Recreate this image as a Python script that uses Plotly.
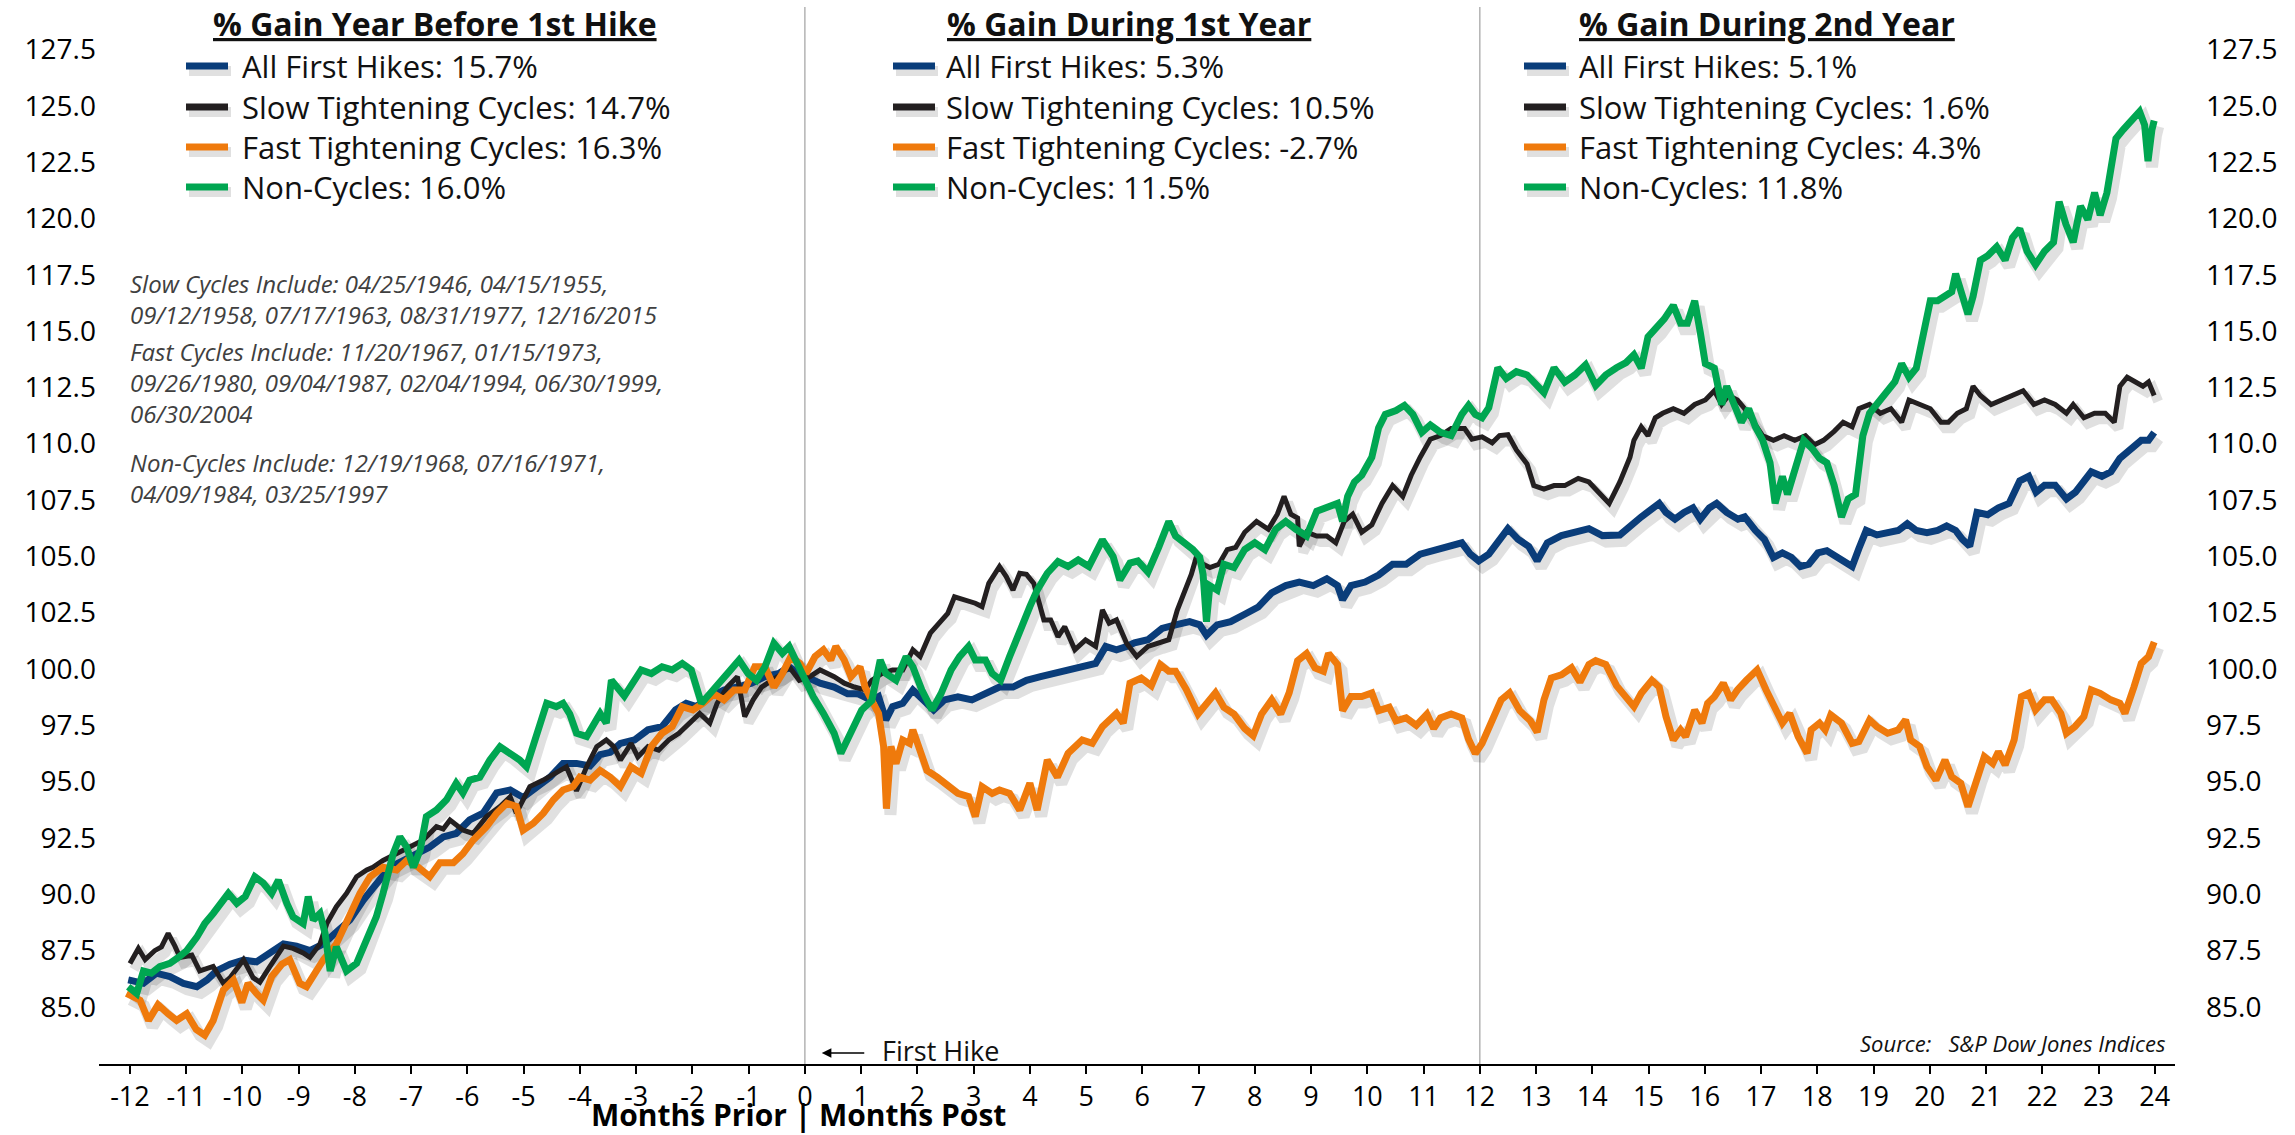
import plotly.graph_objects as go

# ---------------- data (months relative to first hike, index level) ----------------
all_first_hikes = [(-12.03,86.2),(-11.76,86.05),(-11.53,86.5),(-11.29,86.35),(-11.05,86.05),(-10.81,85.9),(-10.63,86.2),(-10.46,86.6),(-10.22,86.9),(-9.98,87.08),(-9.75,87.0),(-9.51,87.4),(-9.27,87.8),(-9.04,87.7),(-8.80,87.5),(-8.56,87.8),(-8.33,88.27),(-8.09,88.86),(-7.85,89.75),(-7.62,90.5),(-7.38,91.2),(-7.14,91.5),(-6.90,91.8),(-6.67,92.1),(-6.43,92.55),(-6.20,92.7),(-5.96,93.3),(-5.72,93.6),(-5.48,94.5),(-5.24,94.63),(-5.01,94.3),(-4.77,94.78),(-4.53,95.2),(-4.30,95.81),(-4.06,95.81),(-3.82,95.7),(-3.64,96.2),(-3.46,96.3),(-3.28,96.7),(-3.03,96.85),(-2.79,97.3),(-2.54,97.44),(-2.30,98.18),(-2.11,98.48),(-1.93,98.33),(-1.69,98.77),(-1.44,99.07),(-1.20,99.2),(-0.95,99.37),(-0.71,99.66),(-0.46,99.8),(-0.28,100.1),(-0.12,99.8),(0.02,99.66),(0.27,99.37),(0.52,99.2),(0.76,98.9),(0.95,98.9),(1.19,98.6),(1.31,98.77),(1.44,97.74),(1.56,98.33),(1.74,98.48),(1.92,99.07),(2.11,98.63),(2.29,98.18),(2.48,98.63),(2.72,98.77),(2.97,98.63),(3.21,98.9),(3.46,99.2),(3.70,99.2),(3.94,99.5),(4.19,99.66),(4.44,99.8),(4.68,99.96),(4.93,100.1),(5.17,100.25),(5.35,101.0),(5.54,100.85),(5.72,101.0),(5.86,101.16),(6.10,101.3),(6.35,101.8),(6.59,101.96),(6.84,102.1),(7.02,101.96),(7.14,101.5),(7.33,101.96),(7.57,102.1),(7.82,102.43),(8.06,102.75),(8.30,103.38),(8.55,103.7),(8.79,103.86),(9.04,103.7),(9.28,104.0),(9.47,103.7),(9.56,103.07),(9.71,103.7),(9.96,103.86),(10.20,104.17),(10.45,104.65),(10.69,104.65),(10.94,105.1),(11.18,105.28),(11.43,105.44),(11.68,105.6),(11.83,105.1),(11.98,104.8),(12.16,105.1),(12.35,105.76),(12.50,106.23),(12.68,105.76),(12.87,105.44),(13.02,104.8),(13.20,105.6),(13.45,105.92),(13.69,106.07),(13.94,106.23),(14.18,105.92),(14.49,105.95),(14.87,106.75),(15.19,107.35),(15.31,106.95),(15.47,106.65),(15.63,106.95),(15.79,107.15),(15.92,106.65),(16.08,107.15),(16.21,107.35),(16.39,106.95),(16.59,106.65),(16.71,106.75),(16.90,106.15),(17.06,105.75),(17.22,104.95),(17.38,105.15),(17.54,104.95),(17.70,104.55),(17.85,104.65),(18.01,105.15),(18.17,105.25),(18.36,104.95),(18.52,104.65),(18.62,104.55),(18.74,105.35),(18.87,106.15),(19.06,105.95),(19.25,106.05),(19.44,106.15),(19.60,106.45),(19.76,106.15),(19.95,106.05),(20.14,106.15),(20.30,106.35),(20.46,106.15),(20.58,105.75),(20.71,105.45),(20.84,106.95),(21.03,106.85),(21.22,107.15),(21.41,107.35),(21.60,108.35),(21.76,108.55),(21.89,107.85),(22.04,108.15),(22.23,108.15),(22.43,107.55),(22.59,107.85),(22.74,108.35),(22.87,108.75),(23.06,108.55),(23.22,108.75),(23.38,109.35),(23.57,109.75),(23.76,110.15),(23.89,110.15),(23.99,110.5)]

slow_cycles = [(-12.0,86.93),(-11.85,87.6),(-11.73,87.1),(-11.56,87.5),(-11.44,87.67),(-11.32,88.27),(-11.2,87.7),(-11.11,87.2),(-10.9,87.3),(-10.76,86.6),(-10.52,86.8),(-10.34,86.05),(-10.22,86.3),(-9.98,87.1),(-9.81,86.3),(-9.69,86.1),(-9.51,86.8),(-9.27,87.7),(-9.1,87.6),(-8.92,87.4),(-8.8,87.2),(-8.62,87.8),(-8.5,88.7),(-8.33,89.45),(-8.15,90.04),(-7.97,90.78),(-7.79,91.08),(-7.68,91.2),(-7.5,91.5),(-7.26,91.8),(-7.02,92.1),(-6.79,92.4),(-6.55,93.0),(-6.43,92.9),(-6.31,93.3),(-6.08,92.85),(-5.9,92.7),(-5.66,93.45),(-5.42,93.9),(-5.24,94.33),(-5.13,93.6),(-5.01,94.2),(-4.89,94.78),(-4.65,95.07),(-4.42,95.37),(-4.24,95.66),(-4.06,94.6),(-3.88,95.66),(-3.7,96.55),(-3.53,96.85),(-3.4,96.56),(-3.28,95.96),(-3.09,96.7),(-2.97,96.1),(-2.79,96.56),(-2.6,96.4),(-2.42,96.85),(-2.24,97.15),(-2.05,97.6),(-1.87,98.03),(-1.69,97.6),(-1.56,98.48),(-1.38,99.2),(-1.2,99.66),(-1.07,97.89),(-0.92,98.63),(-0.77,99.2),(-0.58,99.5),(-0.4,99.8),(-0.28,100.1),(-0.1,99.5),(0.09,99.66),(0.27,99.96),(0.52,99.66),(0.7,99.37),(0.88,99.2),(1.07,99.07),(1.19,99.5),(1.37,99.8),(1.56,99.96),(1.74,99.96),(1.92,100.85),(2.05,100.55),(2.23,101.59),(2.42,102.18),(2.54,102.47),(2.66,103.2),(2.85,103.07),(3.03,102.92),(3.15,102.77),(3.27,103.8),(3.46,104.55),(3.58,104.1),(3.7,103.5),(3.82,104.25),(3.94,104.2),(4.07,103.8),(4.25,102.18),(4.37,102.18),(4.5,101.43),(4.62,101.88),(4.8,100.85),(4.99,101.29),(5.17,101.0),(5.29,102.62),(5.41,102.03),(5.54,102.18),(5.72,101.14),(5.9,100.55),(6.1,101.0),(6.29,101.16),(6.47,101.3),(6.62,102.6),(6.74,103.38),(6.87,104.2),(6.96,104.97),(7.08,104.65),(7.2,104.5),(7.36,104.65),(7.51,105.3),(7.66,105.4),(7.82,106.07),(8.03,106.55),(8.24,106.2),(8.4,106.87),(8.52,107.66),(8.64,106.87),(8.76,106.7),(8.79,105.44),(8.92,106.07),(9.1,105.9),(9.28,105.9),(9.44,105.6),(9.59,106.55),(9.74,106.87),(9.9,106.07),(10.08,106.4),(10.26,107.35),(10.45,108.14),(10.63,107.66),(10.78,108.6),(10.94,109.4),(11.12,110.2),(11.3,110.36),(11.49,110.67),(11.73,110.67),(11.86,110.2),(12.04,110.3),(12.22,110.04),(12.35,110.36),(12.5,110.4),(12.65,109.72),(12.84,109.1),(12.96,108.14),(13.14,107.98),(13.32,108.14),(13.51,108.14),(13.75,108.46),(13.94,108.3),(14.12,107.82),(14.3,107.35),(14.49,108.3),(14.67,109.4),(14.74,110.15),(14.87,110.75),(14.99,110.35),(15.12,111.15),(15.25,111.35),(15.44,111.55),(15.63,111.35),(15.82,111.74),(16.01,111.94),(16.17,112.35),(16.3,111.74),(16.42,112.14),(16.58,111.94),(16.71,111.55),(16.87,110.95),(17.03,110.35),(17.22,110.15),(17.41,110.35),(17.6,110.15),(17.79,110.35),(17.95,109.95),(18.11,110.15),(18.3,110.55),(18.46,110.95),(18.62,110.75),(18.74,111.55),(18.93,111.74),(19.12,111.35),(19.31,111.55),(19.5,110.95),(19.63,111.94),(19.82,111.74),(20.01,111.55),(20.2,110.95),(20.33,110.95),(20.49,111.35),(20.65,111.55),(20.77,112.55),(20.9,112.14),(21.09,111.74),(21.28,111.94),(21.47,112.14),(21.66,112.35),(21.85,111.74),(22.04,111.94),(22.23,111.74),(22.43,111.35),(22.55,111.74),(22.74,111.15),(22.93,111.35),(23.12,111.35),(23.28,110.95),(23.38,112.55),(23.51,112.95),(23.66,112.74),(23.79,112.55),(23.89,112.74),(23.99,112.14)]

fast_cycles = [(-12.06,85.6),(-11.82,85.3),(-11.67,84.4),(-11.5,85.1),(-11.32,84.7),(-11.17,84.4),(-10.99,84.7),(-10.82,84.0),(-10.67,83.75),(-10.52,84.4),(-10.34,85.75),(-10.16,86.2),(-10.01,85.2),(-9.9,86.05),(-9.75,85.6),(-9.63,85.3),(-9.48,86.35),(-9.3,86.9),(-9.16,87.1),(-8.98,86.05),(-8.86,85.9),(-8.68,86.6),(-8.56,87.1),(-8.33,87.8),(-8.09,89.15),(-7.91,90.04),(-7.73,90.78),(-7.5,91.2),(-7.26,91.08),(-7.08,91.5),(-6.87,91.2),(-6.67,90.78),(-6.49,91.4),(-6.25,91.4),(-6.08,91.8),(-5.9,92.4),(-5.66,93.0),(-5.48,93.6),(-5.3,94.04),(-5.13,93.9),(-5.01,92.85),(-4.83,93.15),(-4.65,93.6),(-4.47,94.2),(-4.3,94.63),(-4.12,94.78),(-4.0,95.2),(-3.82,95.07),(-3.64,95.5),(-3.46,95.2),(-3.28,94.78),(-3.09,95.66),(-2.91,95.37),(-2.73,96.56),(-2.54,97.15),(-2.36,97.44),(-2.18,98.33),(-1.99,98.18),(-1.81,98.48),(-1.62,98.9),(-1.44,98.63),(-1.26,99.07),(-1.07,99.07),(-0.89,100.1),(-0.71,100.1),(-0.55,99.2),(-0.4,99.8),(-0.25,100.55),(-0.09,100.25),(0.02,99.8),(0.18,100.55),(0.33,100.85),(0.46,100.4),(0.55,101.0),(0.7,100.4),(0.82,99.66),(0.98,100.1),(1.07,99.2),(1.19,98.6),(1.31,98.03),(1.4,96.56),(1.45,93.8),(1.53,96.56),(1.62,95.8),(1.74,96.85),(1.86,96.7),(1.92,97.3),(2.05,96.4),(2.17,95.5),(2.35,95.2),(2.54,94.78),(2.72,94.48),(2.91,94.34),(3.03,93.45),(3.15,94.78),(3.33,94.48),(3.46,94.63),(3.64,94.48),(3.82,93.74),(4.0,94.93),(4.13,93.74),(4.31,95.96),(4.49,95.2),(4.68,96.26),(4.93,96.85),(5.11,96.7),(5.29,97.44),(5.54,98.03),(5.66,97.6),(5.78,99.37),(5.98,99.6),(6.16,99.26),(6.32,100.2),(6.47,99.9),(6.59,99.9),(6.78,99.1),(6.99,98.0),(7.14,98.47),(7.3,98.94),(7.45,98.3),(7.63,98.0),(7.82,97.36),(7.97,97.04),(8.12,98.0),(8.3,98.63),(8.46,98.0),(8.61,98.94),(8.76,100.37),(8.92,100.69),(9.07,100.05),(9.22,99.9),(9.31,100.69),(9.47,100.2),(9.56,98.15),(9.71,98.78),(9.9,98.78),(10.08,98.94),(10.2,98.15),(10.39,98.3),(10.51,97.7),(10.69,97.83),(10.87,97.5),(11.06,98.0),(11.18,97.36),(11.3,97.83),(11.49,98.0),(11.68,97.83),(11.8,96.88),(11.92,96.25),(12.04,96.7),(12.22,97.7),(12.38,98.63),(12.53,98.94),(12.71,98.15),(12.9,97.7),(13.02,97.2),(13.14,98.63),(13.27,99.6),(13.45,99.74),(13.63,100.05),(13.78,99.42),(13.94,100.2),(14.06,100.37),(14.24,100.2),(14.43,99.26),(14.6,98.8),(14.74,98.33),(14.87,98.92),(15.06,99.5),(15.19,99.2),(15.31,97.89),(15.44,96.85),(15.57,97.3),(15.66,97.0),(15.82,98.18),(15.95,97.6),(16.05,98.48),(16.17,98.77),(16.33,99.37),(16.46,98.63),(16.58,99.07),(16.74,99.5),(16.93,99.96),(17.09,99.07),(17.22,98.33),(17.38,97.6),(17.51,98.03),(17.66,97.0),(17.82,96.26),(17.89,97.3),(18.04,97.6),(18.14,97.3),(18.24,97.96),(18.43,97.6),(18.62,96.7),(18.74,96.78),(18.93,97.74),(19.06,97.44),(19.25,97.15),(19.44,97.3),(19.57,97.74),(19.66,96.85),(19.82,96.56),(19.95,95.67),(20.11,95.07),(20.27,95.96),(20.39,95.22),(20.55,94.93),(20.68,93.89),(20.84,95.22),(20.97,96.11),(21.12,95.81),(21.22,96.33),(21.34,95.74),(21.5,96.85),(21.63,98.77),(21.76,98.92),(21.88,98.18),(22.04,98.63),(22.17,98.63),(22.33,98.03),(22.43,97.15),(22.58,97.44),(22.74,97.89),(22.87,99.07),(23.03,98.92),(23.22,98.63),(23.38,98.48),(23.47,98.03),(23.63,99.2),(23.76,100.25),(23.89,100.55),(23.99,101.2)]

non_cycles = [(-12.03,85.9),(-11.88,85.6),(-11.76,86.6),(-11.62,86.5),(-11.47,86.79),(-11.29,86.94),(-11.14,87.2),(-10.99,87.5),(-10.81,88.1),(-10.67,88.7),(-10.52,89.15),(-10.37,89.6),(-10.25,90.04),(-10.1,89.6),(-9.95,89.9),(-9.78,90.78),(-9.63,90.5),(-9.48,90.04),(-9.36,90.63),(-9.21,89.6),(-9.1,89.0),(-8.92,88.7),(-8.83,89.9),(-8.74,88.86),(-8.62,89.15),(-8.53,88.27),(-8.44,86.6),(-8.33,87.67),(-8.15,86.6),(-7.97,86.94),(-7.79,88.1),(-7.62,89.0),(-7.5,90.04),(-7.32,91.8),(-7.2,92.55),(-7.08,92.1),(-6.96,91.2),(-6.84,91.97),(-6.73,93.45),(-6.55,93.74),(-6.37,94.2),(-6.2,94.93),(-6.08,94.5),(-5.96,95.07),(-5.78,95.2),(-5.6,95.96),(-5.42,96.55),(-5.24,96.26),(-5.07,95.96),(-4.95,95.66),(-4.77,97.15),(-4.59,98.48),(-4.42,98.33),(-4.3,98.48),(-4.18,98.0),(-4.06,97.15),(-3.88,97.0),(-3.76,97.6),(-3.64,98.03),(-3.53,97.6),(-3.44,99.5),(-3.21,98.8),(-3.06,99.4),(-2.91,99.96),(-2.73,99.8),(-2.54,100.1),(-2.36,99.96),(-2.18,100.25),(-2.02,99.96),(-1.93,99.2),(-1.84,98.48),(-1.69,98.9),(-1.5,99.5),(-1.32,99.96),(-1.17,100.4),(-1.01,99.8),(-0.86,99.5),(-0.71,100.1),(-0.55,101.14),(-0.4,100.7),(-0.28,101.0),(-0.12,100.1),(0.02,99.5),(0.15,98.77),(0.33,98.03),(0.52,97.15),(0.64,96.26),(0.76,96.85),(0.88,97.44),(1.01,98.18),(1.19,98.6),(1.34,100.4),(1.44,99.8),(1.62,99.5),(1.8,100.55),(1.92,100.1),(2.08,99.07),(2.26,98.18),(2.42,98.9),(2.6,99.96),(2.75,100.55),(2.91,101.0),(3.03,100.4),(3.21,100.4),(3.33,99.8),(3.48,99.5),(3.64,100.55),(3.82,101.73),(4.0,102.77),(4.13,103.5),(4.31,104.25),(4.5,104.77),(4.68,104.55),(4.86,104.84),(5.05,104.55),(5.29,105.73),(5.48,104.99),(5.6,103.95),(5.78,104.7),(5.92,104.8),(6.1,104.3),(6.29,105.4),(6.47,106.55),(6.59,105.9),(6.75,105.6),(6.9,105.3),(7.02,104.97),(7.08,104.2),(7.14,102.1),(7.2,103.7),(7.33,103.5),(7.45,104.65),(7.63,104.5),(7.82,105.3),(8.0,105.6),(8.18,105.3),(8.37,106.2),(8.55,106.55),(8.73,106.2),(8.92,105.9),(9.1,107.0),(9.28,107.2),(9.47,107.35),(9.56,106.55),(9.65,107.66),(9.77,108.3),(9.9,108.6),(10.08,109.4),(10.2,110.7),(10.32,111.3),(10.51,111.47),(10.66,111.7),(10.81,111.3),(10.97,110.5),(11.12,110.83),(11.3,110.5),(11.49,110.36),(11.68,111.3),(11.8,111.7),(11.92,111.3),(12.04,111.15),(12.16,111.6),(12.32,113.37),(12.47,112.89),(12.65,113.2),(12.84,113.05),(13.02,112.58),(13.14,112.26),(13.32,113.37),(13.51,112.73),(13.69,113.05),(13.88,113.5),(14.06,112.58),(14.24,113.05),(14.43,113.37),(14.6,113.6),(14.74,113.95),(14.87,113.35),(14.99,114.74),(15.15,115.14),(15.28,115.54),(15.44,116.14),(15.57,115.34),(15.69,115.34),(15.82,116.34),(15.92,114.94),(16.01,113.55),(16.17,113.35),(16.3,111.74),(16.39,112.55),(16.52,111.74),(16.65,110.95),(16.78,111.55),(16.9,110.75),(17.03,110.15),(17.16,109.15),(17.25,107.35),(17.38,108.55),(17.47,107.75),(17.6,108.95),(17.76,110.15),(17.92,109.75),(18.04,109.35),(18.17,109.15),(18.3,108.15),(18.43,106.75),(18.55,107.55),(18.68,107.75),(18.81,110.35),(18.93,111.35),(19.06,111.74),(19.25,112.35),(19.38,112.75),(19.5,113.55),(19.63,112.95),(19.76,113.35),(19.89,114.74),(20.01,116.34),(20.14,116.34),(20.27,116.54),(20.39,116.74),(20.46,117.54),(20.58,116.54),(20.68,115.74),(20.77,116.54),(20.9,118.14),(21.03,118.34),(21.19,118.74),(21.34,118.14),(21.47,119.14),(21.6,119.54),(21.73,118.54),(21.88,117.94),(22.04,118.54),(22.2,118.94),(22.3,120.74),(22.42,119.74),(22.55,118.94),(22.68,120.54),(22.81,119.94),(22.93,121.14),(23.03,120.14),(23.15,121.14),(23.31,123.54),(23.44,123.94),(23.57,124.34),(23.73,124.74),(23.82,124.14),(23.88,122.54),(23.95,123.94),(23.99,124.34)]

series_names = ["All First Hikes", "Slow Tightening Cycles", "Fast Tightening Cycles", "Non-Cycles"]
gain_year_before = ["15.7%", "14.7%", "16.3%", "16.0%"]
gain_year_one = ["5.3%", "10.5%", "-2.7%", "11.5%"]
gain_year_two = ["5.1%", "1.6%", "4.3%", "11.8%"]
panel_titles = ["% Gain Year Before 1st Hike", "% Gain During 1st Year", "% Gain During 2nd Year"]
month_ticks = [-12, -11, -10, -9, -8, -7, -6, -5, -4, -3, -2, -1, 0, 1, 2, 3, 4, 5, 6,
               7, 8, 9, 10, 11, 12, 13, 14, 15, 16, 17, 18, 19, 20, 21, 22, 23, 24]
level_ticks = [85.0, 87.5, 90.0, 92.5, 95.0, 97.5, 100.0, 102.5, 105.0, 107.5, 110.0,
               112.5, 115.0, 117.5, 120.0, 122.5, 125.0, 127.5]
divider_months = [0, 12]
notes = [
    "Slow Cycles Include: 04/25/1946, 04/15/1955,<br>09/12/1958, 07/17/1963, 08/31/1977, 12/16/2015",
    "Fast Cycles Include: 11/20/1967, 01/15/1973,<br>09/26/1980, 09/04/1987, 02/04/1994, 06/30/1999,<br>06/30/2004",
    "Non-Cycles Include: 12/19/1968, 07/16/1971,<br>04/09/1984, 03/25/1997",
]

# ---------------- styling / geometry ----------------
FONT = "Open Sans"
COLORS = ["#0a3d7a", "#231f20", "#ef7a0c", "#00a651"]
WIDTHS = [7, 5, 7, 7]
W, H = 2295, 1135
L, R, T, B = 99, 120, 7, 71
X_RANGE = [-12.55, 24.36]
Y_RANGE = [82.47, 129.38]
PW, PH = W - L - R, H - T - B
KX = PW / (X_RANGE[1] - X_RANGE[0])
KY = PH / (Y_RANGE[1] - Y_RANGE[0])
SH_DX, SH_DY = 4, 6
SHADOW = "rgba(0,0,0,0.12)"


def px(x):
    return (x - L) / PW


def py(y):
    return (H - B - y) / PH


data_sets = [all_first_hikes, slow_cycles, fast_cycles, non_cycles]

fig = go.Figure()
# soft drop shadows (same data on a pixel-shifted overlay axis pair)
for d, w in zip(data_sets, WIDTHS):
    fig.add_trace(go.Scatter(x=[p[0] for p in d], y=[p[1] for p in d], mode="lines",
                             line=dict(color=SHADOW, width=w + 5), xaxis="x", yaxis="y",
                             hoverinfo="skip", showlegend=False))
for d, c, w, n in zip(data_sets, COLORS, WIDTHS, series_names):
    fig.add_trace(go.Scatter(x=[p[0] for p in d], y=[p[1] for p in d], mode="lines", name=n,
                             line=dict(color=c, width=w), xaxis="x2", yaxis="y2",
                             showlegend=False))
# carrier for the right-hand axis
fig.add_trace(go.Scatter(x=[None], y=[None], xaxis="x2", yaxis="y3", mode="lines",
                         hoverinfo="skip", showlegend=False))

shapes = []
for m in divider_months:
    shapes.append(dict(type="line", xref="x2", yref="paper", x0=m, x1=m, y0=0, y1=1,
                       line=dict(color="#b3b3b3", width=1.5), layer="below"))

annotations = []
panel_gains = [gain_year_before, gain_year_one, gain_year_two]
title_cx = [435, 1129, 1767]
sample_x0 = [186, 893, 1524]
text_x = [240, 944, 1577]
row_y = [66, 107, 147, 187]
for k in range(3):
    annotations.append(dict(xref="paper", yref="paper", x=px(title_cx[k]), y=py(23),
                            xanchor="center", yanchor="middle", showarrow=False,
                            text=panel_titles[k],
                            font=dict(family=FONT, size=32, color="#111", weight=700,
                                      lineposition="under")))
    for i in range(4):
        shapes.append(dict(type="line", xref="paper", yref="paper",
                           x0=px(sample_x0[k] + 3), x1=px(sample_x0[k] + 45),
                           y0=py(row_y[i] + 5), y1=py(row_y[i] + 5),
                           line=dict(color=SHADOW, width=10)))
        shapes.append(dict(type="line", xref="paper", yref="paper",
                           x0=px(sample_x0[k]), x1=px(sample_x0[k] + 42),
                           y0=py(row_y[i]), y1=py(row_y[i]),
                           line=dict(color=COLORS[i], width=7)))
        annotations.append(dict(xref="paper", yref="paper", x=px(text_x[k]), y=py(row_y[i]),
                                xanchor="left", yanchor="middle", showarrow=False,
                                text=f"{series_names[i]}: {panel_gains[k][i]}",
                                font=dict(family=FONT, size=31, color="#111")))

note_top = [265, 333, 444]
for t, top in zip(notes, note_top):
    annotations.append(dict(xref="paper", yref="paper", x=px(128), y=py(top),
                            xanchor="left", yanchor="top", align="left", showarrow=False,
                            text=t, font=dict(family=FONT, size=24, color="#404040",
                                              style="italic")))

# first hike marker
annotations.append(dict(xref="x2", yref="paper", x=0.3, y=py(1053), ax=44, ay=0,
                        axref="pixel", ayref="pixel", text="", showarrow=True,
                        arrowhead=2, arrowsize=1.2, arrowwidth=1.6, arrowcolor="#000"))
annotations.append(dict(xref="paper", yref="paper", x=px(880), y=py(1050),
                        xanchor="left", yanchor="middle", showarrow=False,
                        text="First Hike", font=dict(family=FONT, size=27, color="#111")))
annotations.append(dict(xref="paper", yref="paper", x=px(2168), y=py(1043),
                        xanchor="right", yanchor="middle", showarrow=False,
                        text="Source:   S&P Dow Jones Indices",
                        font=dict(family=FONT, size=22, color="#111", style="italic")))
annotations.append(dict(xref="paper", yref="paper", x=px(798), y=py(1114),
                        xanchor="center", yanchor="middle", showarrow=False,
                        text="Months Prior | Months Post",
                        font=dict(family=FONT, size=30, color="#000", weight=700)))

ytick_text = [f"{v:.1f}" for v in level_ticks]
fig.update_layout(
    template="none",
    width=W, height=H,
    margin=dict(l=L, r=R, t=T, b=B, pad=0),
    paper_bgcolor="white", plot_bgcolor="white",
    showlegend=False,
    xaxis=dict(range=[X_RANGE[0] - SH_DX / KX, X_RANGE[1] - SH_DX / KX], visible=False,
               automargin=False),
    yaxis=dict(range=[Y_RANGE[0] + SH_DY / KY, Y_RANGE[1] + SH_DY / KY], visible=False,
               automargin=False),
    xaxis2=dict(overlaying="x", anchor="y2", range=X_RANGE, automargin=False,
                showline=True, linecolor="#000", linewidth=2, showgrid=False, zeroline=False,
                ticks="outside", ticklen=8, tickwidth=2, tickcolor="#000",
                tickvals=month_ticks, ticktext=[str(m) for m in month_ticks],
                tickfont=dict(family=FONT, size=27, color="#000")),
    yaxis2=dict(overlaying="y", anchor="x2", side="left", range=Y_RANGE, automargin=False,
                showline=False, showgrid=False, zeroline=False, ticks="",
                tickvals=level_ticks, ticktext=ytick_text, ticklabelstandoff=2,
                tickfont=dict(family=FONT, size=28, color="#000")),
    yaxis3=dict(overlaying="y", anchor="x2", side="right", range=Y_RANGE, automargin=False,
                showline=False, showgrid=False, zeroline=False, ticks="",
                tickvals=level_ticks, ticktext=ytick_text, ticklabelstandoff=30,
                tickfont=dict(family=FONT, size=28, color="#000")),
    shapes=shapes,
    annotations=annotations,
)

fig.write_html("out.html", config={"displayModeBar": False},
               post_script="document.body.style.margin='0px';document.body.style.overflow='hidden';")
